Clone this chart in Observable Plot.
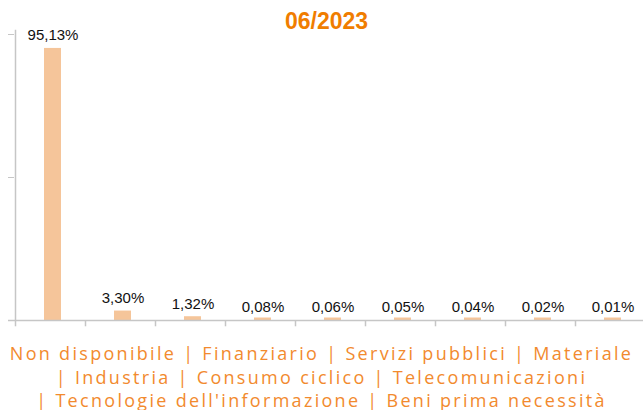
<!DOCTYPE html>
<html>
<head>
<meta charset="utf-8">
<script src="https://cdn.jsdelivr.net/npm/d3@7"></script>
<script src="https://cdn.jsdelivr.net/npm/@observablehq/plot@0.6"></script>
<style>
  html, body { margin: 0; padding: 0; background: #fff; }
  #wrap { position: relative; width: 643px; height: 410px; overflow: hidden; }
  #title { position: absolute; left: 5px; top: 8px; width: 643px; text-align: center;
    font: bold 23px "Liberation Sans", Arial, sans-serif; color: #F07D00; }
  #legend { width: 643px; text-align: center; font-family: "Open Sans", sans-serif; font-size: 18px;
    letter-spacing: 2.3px; line-height: 23.5px; color: #F28A2E; padding-top: 7px; }
  #legend span { white-space: nowrap; }
  svg { display: block; }
</style>
</head>
<body>
<div id="wrap">
  <div id="chart"></div>
  <div id="legend"></div>
  <div id="title"></div>
</div>
<script>
const titleText = "06/2023";
const categories = ["Non disponibile", "Finanziario", "Servizi pubblici", "Materiale", "Industria",
  "Consumo ciclico", "Telecomunicazioni", "Tecnologie dell'informazione", "Beni prima necessità"];
const values = [95.13, 3.30, 1.32, 0.08, 0.06, 0.05, 0.04, 0.02, 0.01];
const yTicks = [0, 50, 100];

const data = categories.map((c, i) => ({category: c, value: values[i]}));
const fmt = v => v.toFixed(2).replace(".", ",") + "%";
const grey = "#c6c6c6";
const barColor = "#F5C59A";

const chart = Plot.plot({
  width: 643,
  height: 335,
  marginLeft: 14,
  marginRight: 0,
  marginTop: 34,
  marginBottom: 15,
  style: {color: grey, background: "transparent"},
  x: {domain: categories, range: [14.5, 644.5], padding: 0, axis: null},
  y: {domain: [0, 100], range: [320, 34], ticks: yTicks, tickSize: 6, tickFormat: () => "", label: null},
  marks: [
    Plot.barY(data, {x: "category", y: "value", fill: barColor, insetLeft: 29, insetRight: 24}),
    Plot.tickY(data, {x: "category", y: 0, dy: -1.5, strokeWidth: 3, stroke: barColor, insetLeft: 29, insetRight: 24}),
    Plot.ruleX([categories[0]], {x: d => d, y1: 0, y2: 101.5, dx: -35, stroke: grey, strokeWidth: 1.5}),
    Plot.ruleY([0], {stroke: grey, strokeWidth: 1.5, insetLeft: -6}),
    Plot.ruleX(categories, {x: d => d, y1: 0, y2: -2.2, dx: -35, stroke: grey, strokeWidth: 1.5}),
    Plot.text(data, {x: "category", y: "value", text: d => fmt(d.value), dx: 2.5, dy: -8,
      lineAnchor: "bottom", fill: "#111", fontSize: 15, fontFamily: "Liberation Sans, Arial, sans-serif"})
  ]
});
document.getElementById("chart").appendChild(chart);
document.getElementById("title").textContent = titleText;
const legend = document.getElementById("legend");
categories.forEach((c, i) => {
  if (i > 0) legend.appendChild(document.createTextNode(" "));
  const s = document.createElement("span");
  s.textContent = (i > 0 ? "| " : "") + c;
  legend.appendChild(s);
});
</script>
</body>
</html>
